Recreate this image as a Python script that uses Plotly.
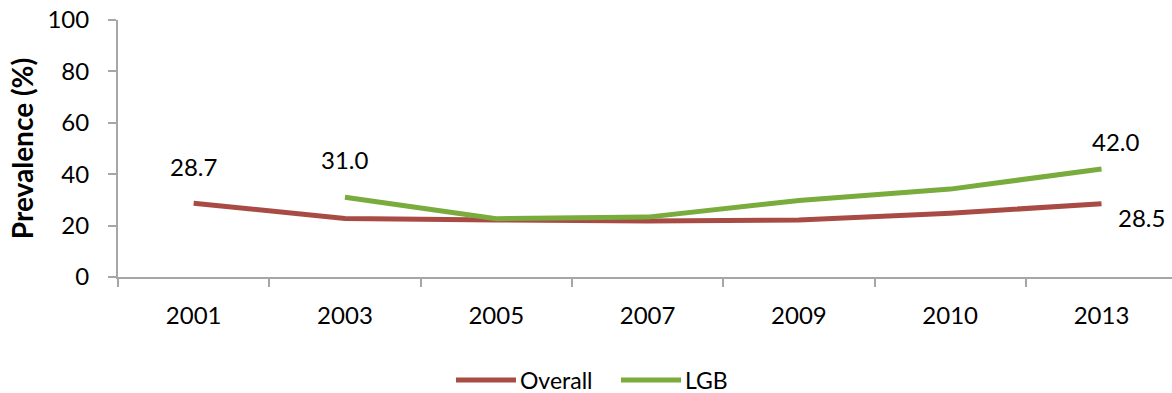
import plotly.graph_objects as go

# Survey years (category axis) and prevalence series (%)
years = ["2001", "2003", "2005", "2007", "2009", "2010", "2013"]
overall = [28.7, 22.8, 22.2, 21.8, 22.2, 24.8, 28.5]
lgb = [None, 31.0, 22.7, 23.3, 29.8, 34.2, 42.0]
y_ticks = [0, 20, 40, 60, 80, 100]

RED = "#A94B45"
GREEN = "#79AB3D"
AXIS = "#A6A6A6"
FONT = "Lato"

fig = go.Figure()
fig.add_trace(go.Scatter(x=years, y=overall, mode="lines", name="Overall",
                         line=dict(color=RED, width=5), showlegend=False))
fig.add_trace(go.Scatter(x=years, y=lgb, mode="lines", name="LGB",
                         line=dict(color=GREEN, width=5), showlegend=False,
                         connectgaps=False))

# Value labels at the series end points (category index, value, offsets)
labels = [
    (0, overall[0], 0, 37),
    (1, lgb[1], 0, 38),
    (6, lgb[6], 15, 28),
    (6, overall[6], 40, -14),
]
for i, y, dx, dy in labels:
    fig.add_annotation(x=i, y=y, xref="x", yref="y", text=f"{y:.1f}",
                       showarrow=False, xshift=dx, yshift=dy,
                       font=dict(family=FONT, size=24, color="black"))

# Legend drawn below the plot
legend_items = [("Overall", RED, 0.3207, 0.3776), ("LGB", GREEN, 0.4772, 0.5342)]
for name, color, x0, x1 in legend_items:
    fig.add_shape(type="line", xref="paper", yref="paper", x0=x0, x1=x1,
                  y0=-0.401, y1=-0.401, line=dict(color=color, width=5))
    fig.add_annotation(xref="paper", yref="paper", x=x1 + 0.002, y=-0.401,
                       text=name, showarrow=False, xanchor="left", yanchor="middle",
                       height=22, valign="middle",
                       font=dict(family=FONT, size=23, color="black"))

fig.update_layout(
    width=1172, height=393,
    margin=dict(l=118, r=0, t=20, b=116),
    paper_bgcolor="white", plot_bgcolor="white",
    font=dict(family=FONT, size=24, color="black"),
    showlegend=False,
)
fig.update_xaxes(
    type="category", range=[-0.5, 6.466],
    showline=True, linecolor=AXIS, linewidth=2,
    ticks="outside", tickson="boundaries", ticklen=8, tickcolor=AXIS, tickwidth=2,
    showgrid=False, ticklabelstandoff=16,
    tickfont=dict(family=FONT, size=24, color="black"),
)
fig.update_yaxes(
    range=[0, 100], tickvals=y_ticks,
    showline=True, linecolor=AXIS, linewidth=2,
    ticks="outside", ticklen=8, tickcolor=AXIS, tickwidth=2,
    showgrid=False, zeroline=False, ticklabelstandoff=14,
    tickfont=dict(family=FONT, size=24, color="black"),
    title=dict(text="<b>Prevalence (%)</b>", standoff=6,
               font=dict(family=FONT, size=28, color="black")),
)

fig.write_html("out.html")
